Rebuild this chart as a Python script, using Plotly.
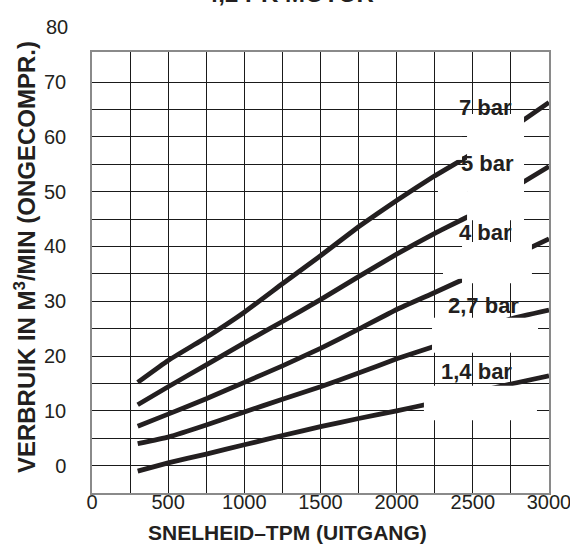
import plotly.graph_objects as go

# ---- data ----
rpm = [300, 500, 750, 1000, 1250, 1500, 1750, 2000, 2250, 2500, 2750, 3000]
bar_7 = [15.2, 19.2, 23.4, 28.0, 33.2, 38.3, 43.6, 48.4, 52.9, 57.0, 61.5, 66.3]
bar_5 = [11.1, 14.4, 18.4, 22.4, 26.3, 30.3, 34.5, 38.6, 42.4, 45.9, 50.4, 54.6]
bar_4 = [7.2, 9.4, 12.2, 15.2, 18.2, 21.4, 24.9, 28.5, 31.6, 34.8, 38.1, 41.4]
bar_27 = [4.0, 5.2, 7.4, 9.8, 12.1, 14.4, 16.9, 19.5, 21.8, 24.3, 26.8, 28.4]
bar_14 = [-1.0, 0.5, 2.1, 3.8, 5.5, 7.1, 8.6, 10.0, 11.5, 13.3, 14.9, 16.4]

series_names = ["7 bar", "5 bar", "4 bar", "2,7 bar", "1,4 bar"]
series_values = [bar_7, bar_5, bar_4, bar_27, bar_14]
label_x = [2580, 2593, 2586, 2567, 2527]
label_y = [65.3, 55.2, 42.5, 29.3, 17.1]

x_major = [0, 500, 1000, 1500, 2000, 2500, 3000]
x_minor = [250, 750, 1250, 1750, 2250, 2750]
y_major = [0, 10, 20, 30, 40, 50, 60, 70]
y_minor = [5, 15, 25, 35, 45, 55, 65]
y_extra_label = 80
x_range = [0, 3000]
y_range = [-5, 75.5]

title_text = "4,2 PK MOTOR"
x_title = "SNELHEID–TPM (UITGANG)"
y_title = "VERBRUIK IN M<sup>3</sup>/MIN (ONGECOMPR.)"

# white masks behind the curve labels (rpm range, value range)
masks = [
    (2462, 2836, 44.8, 64.2),
    (2258, 2429, 55.8, 60.0),
    (2271, 2462, 48.8, 51.0),
    (2429, 2888, 33.3, 40.8),
    (2304, 2429, 34.1, 36.4),
    (2232, 2928, 20.6, 27.0),
    (2179, 2921, 8.3, 14.6),
]

INK = "#231f20"
GRID = "#1a1a1a"
FONT = "Liberation Sans, Arial, sans-serif"

fig = go.Figure()
for name, vals in zip(series_names, series_values):
    fig.add_trace(go.Scatter(
        x=rpm, y=vals, mode="lines", name=name,
        line=dict(color=INK, width=4.8, shape="spline", smoothing=0.3),
        hoverinfo="x+y", showlegend=False,
    ))

shapes = []
for x0, x1, y0, y1 in masks:
    shapes.append(dict(type="rect", xref="x", yref="y", x0=x0, x1=x1, y0=y0, y1=y1,
                       fillcolor="white", line=dict(width=0), layer="above"))

annotations = []
for name, lx, ly in zip(series_names, label_x, label_y):
    annotations.append(dict(x=lx, y=ly, xref="x", yref="y", text=f"<b>{name}</b>",
                            xanchor="center", yanchor="middle",
                            showarrow=False, font=dict(family=FONT, size=22, color=INK)))

extra_frac = (y_extra_label - y_range[0]) / (y_range[1] - y_range[0])
annotations.append(dict(x=0, y=extra_frac, xref="paper", yref="paper", text=str(y_extra_label),
                        xanchor="right", yanchor="middle", xshift=-22, showarrow=False,
                        font=dict(family=FONT, size=20, color=INK)))
annotations.append(dict(x=0.4267, y=-0.0907, xref="paper", yref="paper", text=f"<b>{x_title}</b>",
                        xanchor="center", yanchor="middle",
                        showarrow=False, font=dict(family=FONT, size=21, color=INK)))
annotations.append(dict(x=-0.1466, y=0.535, xref="paper", yref="paper", text=f"<b>{y_title}</b>",
                        xanchor="center", yanchor="middle",
                        textangle=-90, showarrow=False, font=dict(family=FONT, size=24, color=INK)))
annotations.append(dict(x=0.433, y=1.133, xref="paper", yref="paper", text=f"<b>{title_text}</b>",
                        xanchor="center", yanchor="middle",
                        showarrow=False, font=dict(family=FONT, size=24, color=INK)))

fig.update_layout(
    width=570, height=544,
    margin=dict(l=92, r=21, t=52, b=51, autoexpand=False),
    paper_bgcolor="white", plot_bgcolor="white",
    shapes=shapes, annotations=annotations,
    font=dict(family=FONT, color=INK),
)
fig.update_xaxes(
    range=x_range, tickmode="array", tickvals=x_major,
    showgrid=True, gridcolor=GRID, gridwidth=1.2,
    minor=dict(tickmode="array", tickvals=x_minor, showgrid=True, gridcolor=GRID, gridwidth=1.2, ticks=""),
    showline=True, linecolor="#8a8a8a", linewidth=1.5, mirror=True,
    ticks="", ticklen=0, zeroline=False, ticklabeloverflow="allow", ticklabelstandoff=-10,
    tickfont=dict(family=FONT, size=20, color=INK),
)
fig.update_yaxes(
    range=y_range, tickmode="array", tickvals=y_major,
    showgrid=True, gridcolor=GRID, gridwidth=1.2,
    minor=dict(tickmode="array", tickvals=y_minor, showgrid=True, gridcolor=GRID, gridwidth=1.2, ticks=""),
    showline=True, linecolor="#8a8a8a", linewidth=1.5, mirror=True,
    ticks="", ticklen=0, zeroline=False, ticklabelstandoff=20, ticklabeloverflow="allow",
    tickfont=dict(family=FONT, size=20, color=INK),
)

fig.write_html("out.html", config={"displayModeBar": False},
               post_script="document.body.style.margin='0';")
